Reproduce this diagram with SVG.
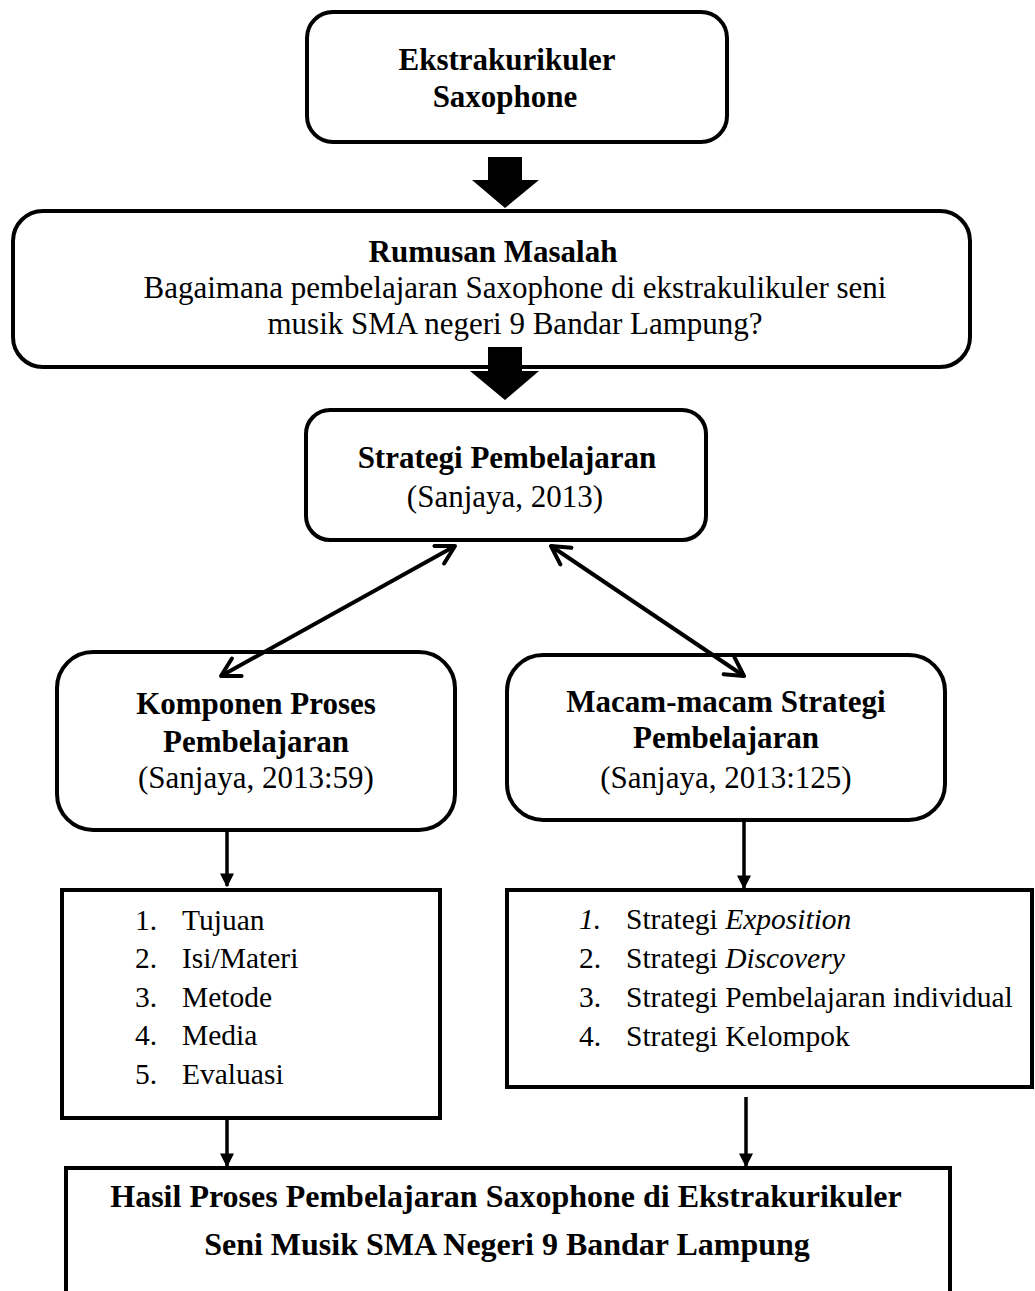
<svg xmlns="http://www.w3.org/2000/svg" width="1035" height="1291" viewBox="0 0 1035 1291">
<defs>
<style>
.box{fill:#fff;stroke:#000;stroke-width:4}
.t{font-family:"Liberation Serif","Times New Roman",serif;font-size:31px;fill:#000}
.b{font-weight:bold}
.c{text-anchor:middle}
.l{font-size:29.5px}
.h{font-size:32px}
.ln{fill:none;stroke:#000;stroke-width:4}
.thin{fill:none;stroke:#000;stroke-width:3.5}
.blk{fill:#000}
</style>
<marker id="open" viewBox="0 0 12 12" refX="10" refY="6" markerWidth="6" markerHeight="6" orient="auto-start-reverse" markerUnits="strokeWidth">
<path d="M1,1 L10,6 L1,11" fill="none" stroke="#000" stroke-width="2" stroke-linecap="round" stroke-linejoin="round"/>
</marker>
<marker id="solid" viewBox="0 0 10 10" refX="9" refY="5" markerWidth="4" markerHeight="4.5" orient="auto" markerUnits="strokeWidth">
<path d="M0,0 L10,5 L0,10 Z" fill="#000"/>
</marker>
</defs>
<rect width="1035" height="1291" fill="#fff"/>

<g id="node-ekstrakurikuler">
<rect class="box" x="307" y="12" width="420" height="130" rx="26"/>
<text class="t b c" x="507" y="70">Ekstrakurikuler</text>
<text class="t b c" x="505" y="107">Saxophone</text>
</g>

<g id="node-rumusan">
<rect class="box" x="13" y="211" width="957" height="156" rx="30"/>
<text class="t b c" x="493" y="262">Rumusan Masalah</text>
<text class="t c" x="515" y="298">Bagaimana pembelajaran Saxophone di ekstrakulikuler seni</text>
<text class="t c" x="515" y="334">musik SMA negeri 9 Bandar Lampung?</text>
</g>

<g id="node-strategi">
<rect class="box" x="306" y="410" width="400" height="130" rx="24"/>
<text class="t b c" x="507" y="468">Strategi Pembelajaran</text>
<text class="t c" x="505" y="507">(Sanjaya, 2013)</text>
</g>

<g id="node-komponen">
<rect class="box" x="57" y="652" width="398" height="178" rx="36"/>
<text class="t b c" x="256" y="714">Komponen Proses</text>
<text class="t b c" x="256" y="752">Pembelajaran</text>
<text class="t c" x="256" y="788">(Sanjaya, 2013:59)</text>
</g>

<g id="node-macam">
<rect class="box" x="507" y="655" width="438" height="165" rx="36"/>
<text class="t b c" x="726" y="712">Macam-macam Strategi</text>
<text class="t b c" x="726" y="748">Pembelajaran</text>
<text class="t c" x="726" y="788">(Sanjaya, 2013:125)</text>
</g>

<g id="node-list-komponen">
<rect class="box" x="62" y="890" width="378" height="228"/>
<text class="t l" x="135" y="930">1.</text><text class="t l" x="182" y="930">Tujuan</text>
<text class="t l" x="135" y="968">2.</text><text class="t l" x="182" y="968">Isi/Materi</text>
<text class="t l" x="135" y="1007">3.</text><text class="t l" x="182" y="1007">Metode</text>
<text class="t l" x="135" y="1045">4.</text><text class="t l" x="182" y="1045">Media</text>
<text class="t l" x="135" y="1084">5.</text><text class="t l" x="182" y="1084">Evaluasi</text>
</g>

<g id="node-list-strategi">
<rect class="box" x="507" y="890" width="525" height="197"/>
<text class="t l" x="579" y="929" font-style="italic">1.</text><text class="t l" x="626" y="929">Strategi <tspan font-style="italic">Exposition</tspan></text>
<text class="t l" x="579" y="968">2.</text><text class="t l" x="626" y="968">Strategi <tspan font-style="italic">Discovery</tspan></text>
<text class="t l" x="579" y="1007">3.</text><text class="t l" x="626" y="1007">Strategi Pembelajaran individual</text>
<text class="t l" x="579" y="1046">4.</text><text class="t l" x="626" y="1046">Strategi Kelompok</text>
</g>

<g id="node-hasil">
<path class="box" d="M66,1296 L66,1168 L950,1168 L950,1296"/>
<text class="t b c h" x="506" y="1207">Hasil Proses Pembelajaran Saxophone di Ekstrakurikuler</text>
<text class="t b c h" x="507" y="1255">Seni Musik SMA Negeri 9 Bandar Lampung</text>
</g>

<g id="connectors">
<polygon class="blk" points="488,157 522,157 522,180 539,180 505,208 472,180 488,180"/>
<polygon class="blk" points="488,347 522,347 522,371 539,371 505,400 470,371 488,371"/>
<line class="ln" x1="455" y1="546" x2="221" y2="676" marker-start="url(#open)" marker-end="url(#open)"/>
<line class="ln" x1="551" y1="546" x2="744" y2="676" marker-start="url(#open)" marker-end="url(#open)"/>
<line class="thin" x1="227" y1="832" x2="227" y2="886" marker-end="url(#solid)"/>
<line class="thin" x1="744" y1="822" x2="744" y2="888" marker-end="url(#solid)"/>
<line class="thin" x1="227" y1="1120" x2="227" y2="1166" marker-end="url(#solid)"/>
<line class="thin" x1="746" y1="1097" x2="746" y2="1166" marker-end="url(#solid)"/>
</g>
</svg>
